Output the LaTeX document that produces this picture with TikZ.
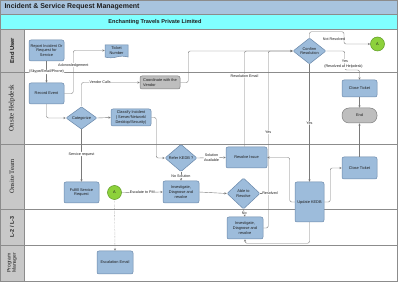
\documentclass[tikz,border=0pt]{standalone}
\usepackage{fontspec}
\setmainfont{Liberation Sans}
\newfontfamily\lanesans{Liberation Sans}
\newfontfamily\laneserif{Liberation Serif}
\usetikzlibrary{shapes.geometric,shapes.symbols,arrows.meta}

\definecolor{titlebar}{HTML}{A8C4DE}
\definecolor{cyanbar}{HTML}{80FFFF}
\definecolor{lanecol}{HTML}{C8C8C8}
\definecolor{laneline}{HTML}{8C8C8C}
\definecolor{boxfill}{HTML}{9DBCDB}
\definecolor{boxline}{HTML}{6A88AA}
\definecolor{greyfill}{HTML}{BEBEBE}
\definecolor{greyline}{HTML}{7F7F7F}
\definecolor{okgreen}{HTML}{8DD13B}
\definecolor{okgreenline}{HTML}{5E9A26}
\definecolor{wire}{HTML}{7A7A7A}
\definecolor{ink}{HTML}{1E1E1E}

\newcommand\boxfont{\fontsize{3.9}{4.7}\selectfont}
\newcommand\tagfont{\fontsize{3.7}{4.3}\selectfont}

\begin{document}
\begin{tikzpicture}[x=1pt,y=-1pt,
  box/.style={draw=boxline, fill=boxfill, rounded corners=2pt, line width=0.5pt,
    align=center, font=\boxfont, text=ink, inner sep=0.5pt},
  greybox/.style={box, draw=greyline, fill=greyfill},
  decision/.style={diamond, draw=boxline, fill=boxfill, line width=0.5pt,
    rounded corners=1pt, align=center, font=\boxfont, text=ink, inner sep=0pt},
  ticket/.style={tape, tape bend height=1.6pt, tape bend top=none, draw=boxline, fill=boxfill,
    line width=0.5pt, align=center, font=\boxfont, text=ink, inner sep=0.5pt},
  stadium/.style={draw=greyline, fill=greyfill, rounded corners=7pt, line width=0.5pt,
    font=\boxfont, text=ink, inner sep=0.5pt},
  jump/.style={circle, draw=okgreenline, fill=okgreen, line width=0.5pt,
    minimum size=14pt, inner sep=0pt, font=\boxfont, text=ink},
  conn/.style={draw=wire, line width=0.4pt, rounded corners=2pt,
    -{Stealth[length=2.4pt,width=2.2pt]}},
  plain/.style={draw=wire, line width=0.4pt, rounded corners=2pt},
  tag/.style={fill=white, inner sep=0.4pt, font=\tagfont, text=ink, align=center},
  bare/.style={inner sep=0.4pt, font=\tagfont, text=ink, align=center},
  lanetext/.style={rotate=90, text=ink, align=center}
]
\useasboundingbox (0,0) rectangle (400,283);
\fill[white] (0,0) rectangle (400,283);

% header bars and lane column
\fill[titlebar] (0,0) rectangle (397.5,14);
\fill[cyanbar] (0,14) rectangle (397.5,29);
\fill[lanecol] (0,29) rectangle (24,281);
\draw[laneline, line width=0.5pt] (0,14) -- (397.5,14);
\foreach \yy in {29,72,144,209,245}
  \draw[laneline, line width=0.6pt] (0,\yy) -- (397.5,\yy);
\draw[laneline, line width=0.6pt] (24,29) -- (24,281);
\draw[laneline, line width=0.6pt] (0,0) rectangle (397.5,281);

\node[anchor=west, font=\bfseries\fontsize{7}{8}\selectfont, text=ink] (title) at (1,7.2)
  {Incident \& Service Request Management};
\node[font=\bfseries\fontsize{5.6}{6.5}\selectfont, text=ink] (company) at (155,21.8)
  {Enchanting Travels Private Limited};

% lane names
\node[lanetext, font=\lanesans\bfseries\fontsize{5.8}{6.5}\selectfont] (laneA) at (12,50.5) {End User};
\node[lanetext, font=\laneserif\fontsize{7}{8}\selectfont] (laneB) at (12,108) {Onsite Helpdesk};
\node[lanetext, font=\laneserif\fontsize{6.6}{8}\selectfont] (laneC) at (12,176.5) {Onsite Team};
\node[lanetext, font=\lanesans\bfseries\fontsize{5.4}{6}\selectfont] (laneD) at (12,227) {L-2 / L-3};
\node[lanetext, font=\lanesans\fontsize{5}{5.4}\selectfont] (laneE) at (12,263) {Program\\Manager};

% process steps
\node[box, minimum width=35pt, minimum height=21pt] (rep) at (46.5,50.5) {Report Incident Or\\Request for\\Service};
\node[ticket, minimum width=23pt, minimum height=13pt] (tick) at (116.5,50.5) {Ticket\\Number};
\node[greybox, minimum width=40pt, minimum height=13pt, align=left] (vend) at (160,82.5) {Coordinate with the\\Vendor};
\node[box, minimum width=35pt, minimum height=21pt] (rec) at (46.5,93.5) {Record Event};
\node[decision, minimum width=31pt, minimum height=22pt] (cat) at (81.5,118) {Categorize};
\node[box, minimum width=40pt, minimum height=17pt] (cls) at (131,117.5) {Classify Incident\\( Server/Network/\\Desktop/Security)};
\node[decision, minimum width=32pt, minimum height=22pt] (ref) at (181,158) {Refer KEDB ?};
\node[box, minimum width=41pt, minimum height=21pt] (res) at (246.5,157.5) {Resolve Issue};
\node[box, minimum width=36pt, minimum height=22pt] (inv1) at (181,192) {Investigate,\\Diagnose and\\resolve};
\node[decision, minimum width=33pt, minimum height=31pt] (able) at (243.5,193.5) {Able to\\Resolve};
\node[box, minimum width=29pt, minimum height=40pt] (upd) at (309.5,202) {Update KEDB};
\node[box, minimum width=35pt, minimum height=22pt] (close2) at (359.5,168) {Close Ticket};
\node[stadium, minimum width=35pt, minimum height=15pt] (end) at (359.5,115.5) {End};
\node[box, minimum width=35pt, minimum height=17pt] (close1) at (359.5,88.5) {Close Ticket};
\node[decision, minimum width=33pt, minimum height=22pt] (conf) at (309.5,51) {Confirm\\Resolution};
\node[jump] (a1) at (377.5,44) {A};
\node[box, minimum width=35pt, minimum height=21pt] (ful) at (81.5,192.5) {Fulfill Service\\Request};
\node[jump] (a2) at (114.5,192.5) {A};
\node[box, minimum width=36pt, minimum height=22pt] (inv2) at (245,228) {Investigate,\\Diagnose and\\resolve};
\node[box, minimum width=36pt, minimum height=23pt] (esc) at (115,262.5) {Escalation Email};

% junction where the resolved branch meets the riser
\coordinate (resolvedjoin) at (268,193.5);

% connectors
\draw[conn] (rep.south) -- (rec.north) node[tag, midway] {(Skype/Email/Phone)};
\draw[conn] (rec.east) -- ++(9,0) |- (tick.west) node[tag, pos=0.33] {Acknowledgement};
\draw[conn] (cat.north) |- (vend.west) node[tag, pos=0.66] {Vendor Calls};
\draw[conn] (vend.east) -- ++(8,0) |- (conf.west);
\draw[conn] ([xshift=-2pt]res.north) |- (conf.west) node[tag, pos=0.37] {Resolution Email};
\draw[conn] (inv2.east) -- ++(5,0) |- (conf.west) node[tag, pos=0.27] {Yes};
\draw[plain] (able.east) -- (resolvedjoin);
\node[tag] (resolvedtag) at (270,193.5) {Resolved};
\draw[conn] (upd.west) -- ++(-5,0) |- (res.east);
\draw[conn] (upd.east) -- ++(6,0) |- (close2.west);
\draw[conn] (close2.north) -- (end.south);
\draw[conn] (close1.south) -- (end.north);
\draw[conn] (conf.south) -- (upd.north) node[tag, pos=0.5] {Yes};
\draw[conn] (conf.north) -- ++(0,-6) -- ++(34.5,0) |- (a1.west);
\node[bare] (notres) at (334,39.5) {Not Resolved};
\draw[conn] (conf.east) -- ++(18.5,0) -- ++(0,19) -| (close1.north);
\node[tag] (yesdesk) at (345,61) {Yes};
\node[tag] (helpdesk) at (343.5,67) {(Resolved at Helpdesk)};
\draw[conn] (rec.south) |- (cat.west);
\draw[conn] (cat.east) -- (cls.west);
\draw[conn] (cat.south) -- (ful.north) node[tag, pos=0.47] {Service request};
\draw[conn] (cls.east) -- ++(5,0) |- (ref.west);
\draw[conn] (ref.east) -- (res.west) node[tag, midway] {Solution\\Available};
\draw[conn] (ref.south) -- (inv1.north) node[tag, midway] {No Solution};
\draw[conn] (a2.east) -- (inv1.west) node[tag, midway] {Escalate to PM};
\draw[conn, densely dotted] (a2.south) -- (esc.north);
\draw[conn] (inv1.east) -- (able.west);
\draw[conn] (able.south) -- (inv2.north) node[tag, midway] {No};
\draw[conn] (upd.south) -- ++(0,21) -| (inv2.south);
\end{tikzpicture}
\end{document}
